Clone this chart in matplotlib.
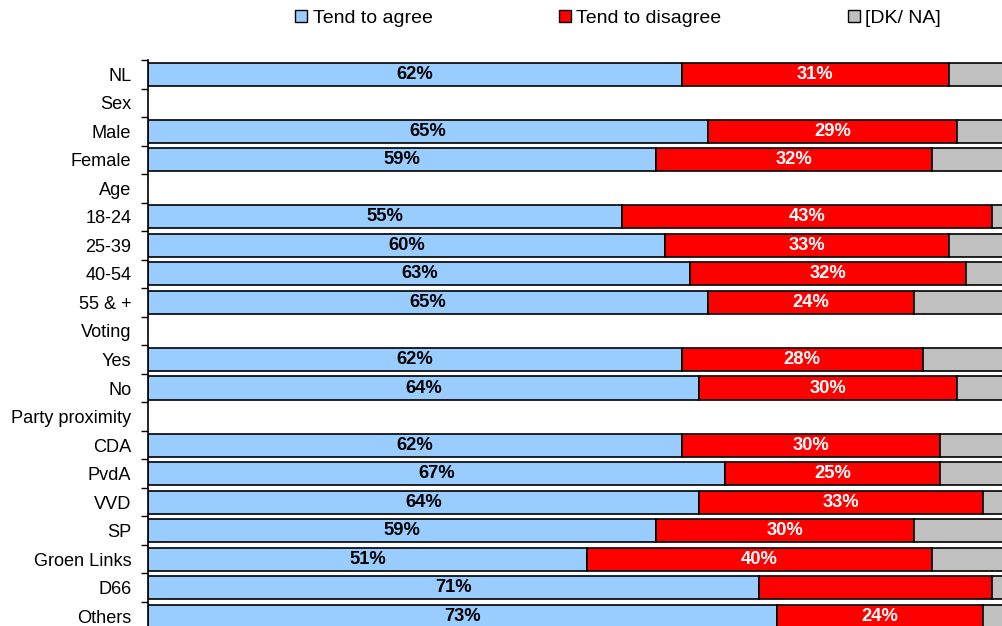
import matplotlib
matplotlib.use("Agg")
import matplotlib.pyplot as plt
import numpy as np
from matplotlib.patches import Patch

categories = ["NL", "Sex", "Male", "Female", "Age", "18-24", "25-39", "40-54", "55 & +",
              "Voting", "Yes", "No", "Party proximity", "CDA", "PvdA", "VVD", "SP",
              "Groen Links", "D66", "Others"]
agree = [62, None, 65, 59, None, 55, 60, 63, 65, None, 62, 64, None, 62, 67, 64, 59, 51, 71, 73]
disagree = [31, None, 29, 32, None, 43, 33, 32, 24, None, 28, 30, None, 30, 25, 33, 30, 40, 27, 24]
dkna = [7, None, 6, 9, None, 2, 7, 5, 11, None, 10, 6, None, 8, 8, 3, 11, 9, 2, 3]
show_disagree_label = [True] * 20
show_disagree_label[18] = False  # D66 has no label in the original
series_names = ["Tend to agree", "Tend to disagree", "[DK/ NA]"]

C_AGREE = "#99CCFF"
C_DIS = "#FF0000"
C_DK = "#C0C0C0"

plt.rcParams['font.family'] = ['Liberation Sans', 'DejaVu Sans']

W, H = 1002, 626
fig = plt.figure(figsize=(W / 100, H / 100), dpi=100)
left, right, top, bottom = 148, 1009, 60, 630.5
ax = fig.add_axes([left / W, 1 - bottom / H, (right - left) / W, (bottom - top) / H])

n = len(categories)
y = np.arange(n)
bh = 0.81
for i in range(n):
    if agree[i] is None:
        continue
    a, d, k = agree[i], disagree[i], dkna[i]
    ax.barh(y[i], a, left=0, height=bh, color=C_AGREE, edgecolor="black", linewidth=1.2)
    ax.barh(y[i], d, left=a, height=bh, color=C_DIS, edgecolor="black", linewidth=1.2)
    ax.barh(y[i], k, left=a + d, height=bh, color=C_DK, edgecolor="black", linewidth=1.2)
    ax.text(a / 2, y[i], f"{a}%", ha="center", va="center", fontsize=13.2,
            fontweight="bold", color="black")
    if show_disagree_label[i]:
        ax.text(a + d / 2, y[i], f"{d}%", ha="center", va="center", fontsize=13.2,
                fontweight="bold", color="white")

ax.set_xlim(0, 100)
ax.set_ylim(n - 0.5, -0.5)
ax.set_yticks(y)
ax.set_yticklabels(categories, fontsize=13.1)
ax.tick_params(axis="y", which="major", length=0, pad=12)
ax.set_yticks(np.arange(-0.5, n, 1.0), minor=True)
ax.tick_params(axis="y", which="minor", length=5, width=1, color="black", direction="out")
ax.set_xticks([])
for s in ["top", "right", "bottom"]:
    ax.spines[s].set_visible(False)
ax.spines["left"].set_linewidth(1.2)
ax.spines["left"].set_color("black")

handles = [Patch(facecolor=c, edgecolor="black", linewidth=1.0) for c in (C_AGREE, C_DIS, C_DK)]
fig.legend(handles, series_names, loc="center", bbox_to_anchor=(0.617, 0.971), ncol=3,
           frameon=False, fontsize=14, handlelength=0.6, handleheight=0.6,
           handletextpad=0.3, columnspacing=6.5)

fig.savefig("out.png", dpi=100)
